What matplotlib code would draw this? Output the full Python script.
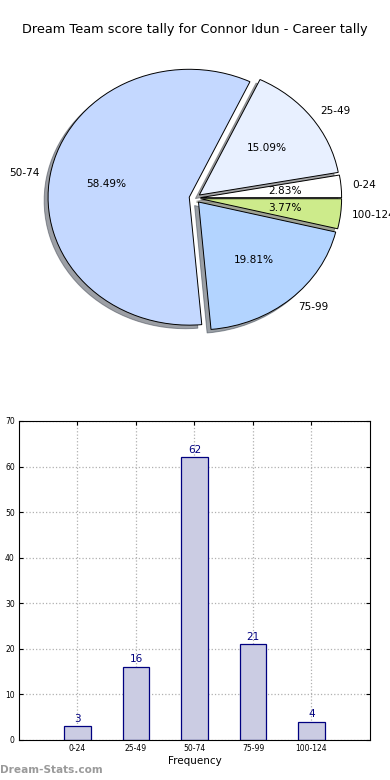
import matplotlib
matplotlib.use("Agg")
import matplotlib.pyplot as plt
import numpy as np

# score bands and how often each was hit
bands = ["0-24", "25-49", "50-74", "75-99", "100-124"]
counts = [3, 16, 62, 21, 4]
pie_colors = ["#ffffff", "#e8f0ff", "#c4d8ff", "#b3d4ff", "#cdeb8b"]
title = "Dream Team score tally for Connor Idun - Career tally"

fig = plt.figure(figsize=(3.9, 7.8), dpi=100)
fig.text(0.5, 0.962, title, ha="center", va="center", fontsize=9.3)

# pie: old-style, not forced to a circle
ax1 = fig.add_axes([0.047, 0.541, 0.905, 0.410])
wedges, texts, autotexts = ax1.pie(
    counts, labels=bands, colors=pie_colors, explode=[0.04] * len(counts),
    autopct="%.2f%%", shadow=True, startangle=0, labeldistance=1.08,
    wedgeprops=dict(edgecolor="black", linewidth=0.7),
    textprops=dict(fontsize=7.6))
ax1.set_aspect("auto")
ax1.set_xlim(-1.25, 1.25)
ax1.set_ylim(-1.25, 1.25)
ax1.axis("off")

# bar chart
ax2 = fig.add_axes([0.0487, 0.0513, 0.900, 0.409])
x = np.arange(len(bands))
ax2.bar(x, counts, width=0.45, color="#cbcce3", edgecolor="navy", linewidth=0.9, zorder=2)
for xi, c in zip(x, counts):
    ax2.text(xi, c + 0.6, str(c), ha="center", va="bottom", fontsize=7.5, color="navy")
ax2.set_xlim(-1, 5)
ax2.set_ylim(0, 70)
ax2.set_yticks(range(0, 71, 10))
ax2.set_xticks(x)
ax2.set_xticklabels(bands)
ax2.tick_params(labelsize=5.5, direction="in", top=True, right=True, length=3, pad=3)
ax2.grid(True, linestyle=":", color="#b0b0b0", linewidth=0.9, zorder=0)
ax2.set_axisbelow(True)
ax2.set_xlabel("Frequency", fontsize=7.5, labelpad=2)

fig.text(0.0, 0.013, "Dream-Stats.com", ha="left", va="center", fontsize=7.6,
         fontweight="bold", color="#9a9a9a")

fig.savefig("out.png", dpi=100)
